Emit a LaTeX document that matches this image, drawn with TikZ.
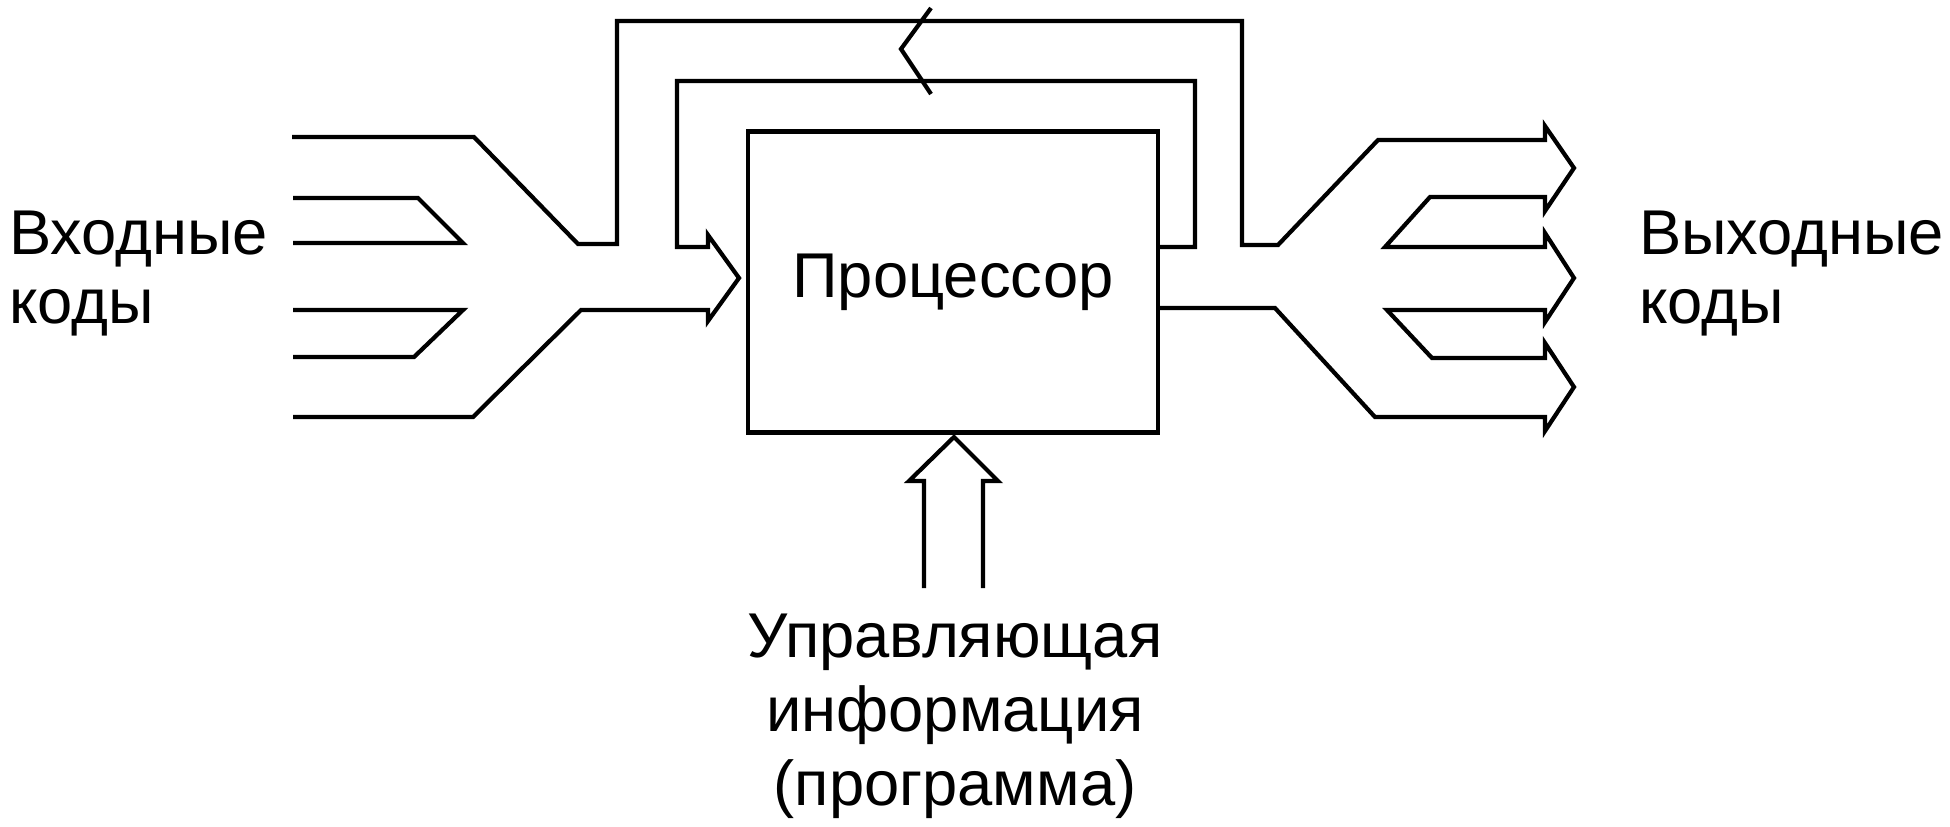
\documentclass[tikz,border=0pt]{standalone}
\usepackage{fontspec}
\setmainfont{Liberation Sans}
\usepackage{tikz}

\begin{document}
\begin{tikzpicture}[x=0.01cm,y=-0.01cm,line width=1.2pt,
  lbl/.style={inner sep=0pt,font=\fontsize{18}{19.4}\selectfont}]
\useasboundingbox (0,0) rectangle (1950,826);
\node [draw, minimum width=4.1cm, minimum height=3.01cm, inner sep=0pt, font=\fontsize{18}{19.4}\selectfont] (proc) at (953,282) {Процессор};
\draw (292,137) -- (474,137) -- (578,244) -- (617,244) -- (617,21) -- (1242,21) -- (1242,245) -- (1278,245) -- (1378,140) -- (1545,140) -- (1545,126) -- (1574,168) -- (1545,211) -- (1545,197) -- (1430,197) -- (1385,247) -- (1545,247) -- (1545,233) -- (1574,278) -- (1545,322) -- (1545,310) -- (1387,310) -- (1432,358) -- (1545,358) -- (1545,343) -- (1574,387) -- (1545,431) -- (1545,417) -- (1375,417) -- (1275,308) -- (proc.east |- 0,308);
\draw (293,198) -- (418,198) -- (463,243) -- (293,243);
\draw (293,310) -- (463,310) -- (414,357) -- (293,357);
\draw (293,417) -- (473,417) -- (581,310) -- (708,310) -- (708,321) -- (739,278) -- (708,235) -- (708,247) -- (677,247) -- (677,81) -- (1195,81) -- (1195,247) -- (proc.east |- 0,247);
\draw (931,8) -- (901,49) -- (931,94);
\draw (924,588) -- (924,481) -- (909,481) -- (954,437) -- (998,481) -- (983,481) -- (983,588);
\node [lbl, anchor=base west, align=left] (inp) at (7,323) {Входные\\коды};
\node [lbl, anchor=base west, align=left] (outp) at (1637,323) {Выходные\\коды};
\node [lbl, anchor=base, align=center, font=\fontsize{18}{21}\selectfont] (ctrl) at (955,805) {Управляющая\\информация\\(программа)};
\end{tikzpicture}
\end{document}
